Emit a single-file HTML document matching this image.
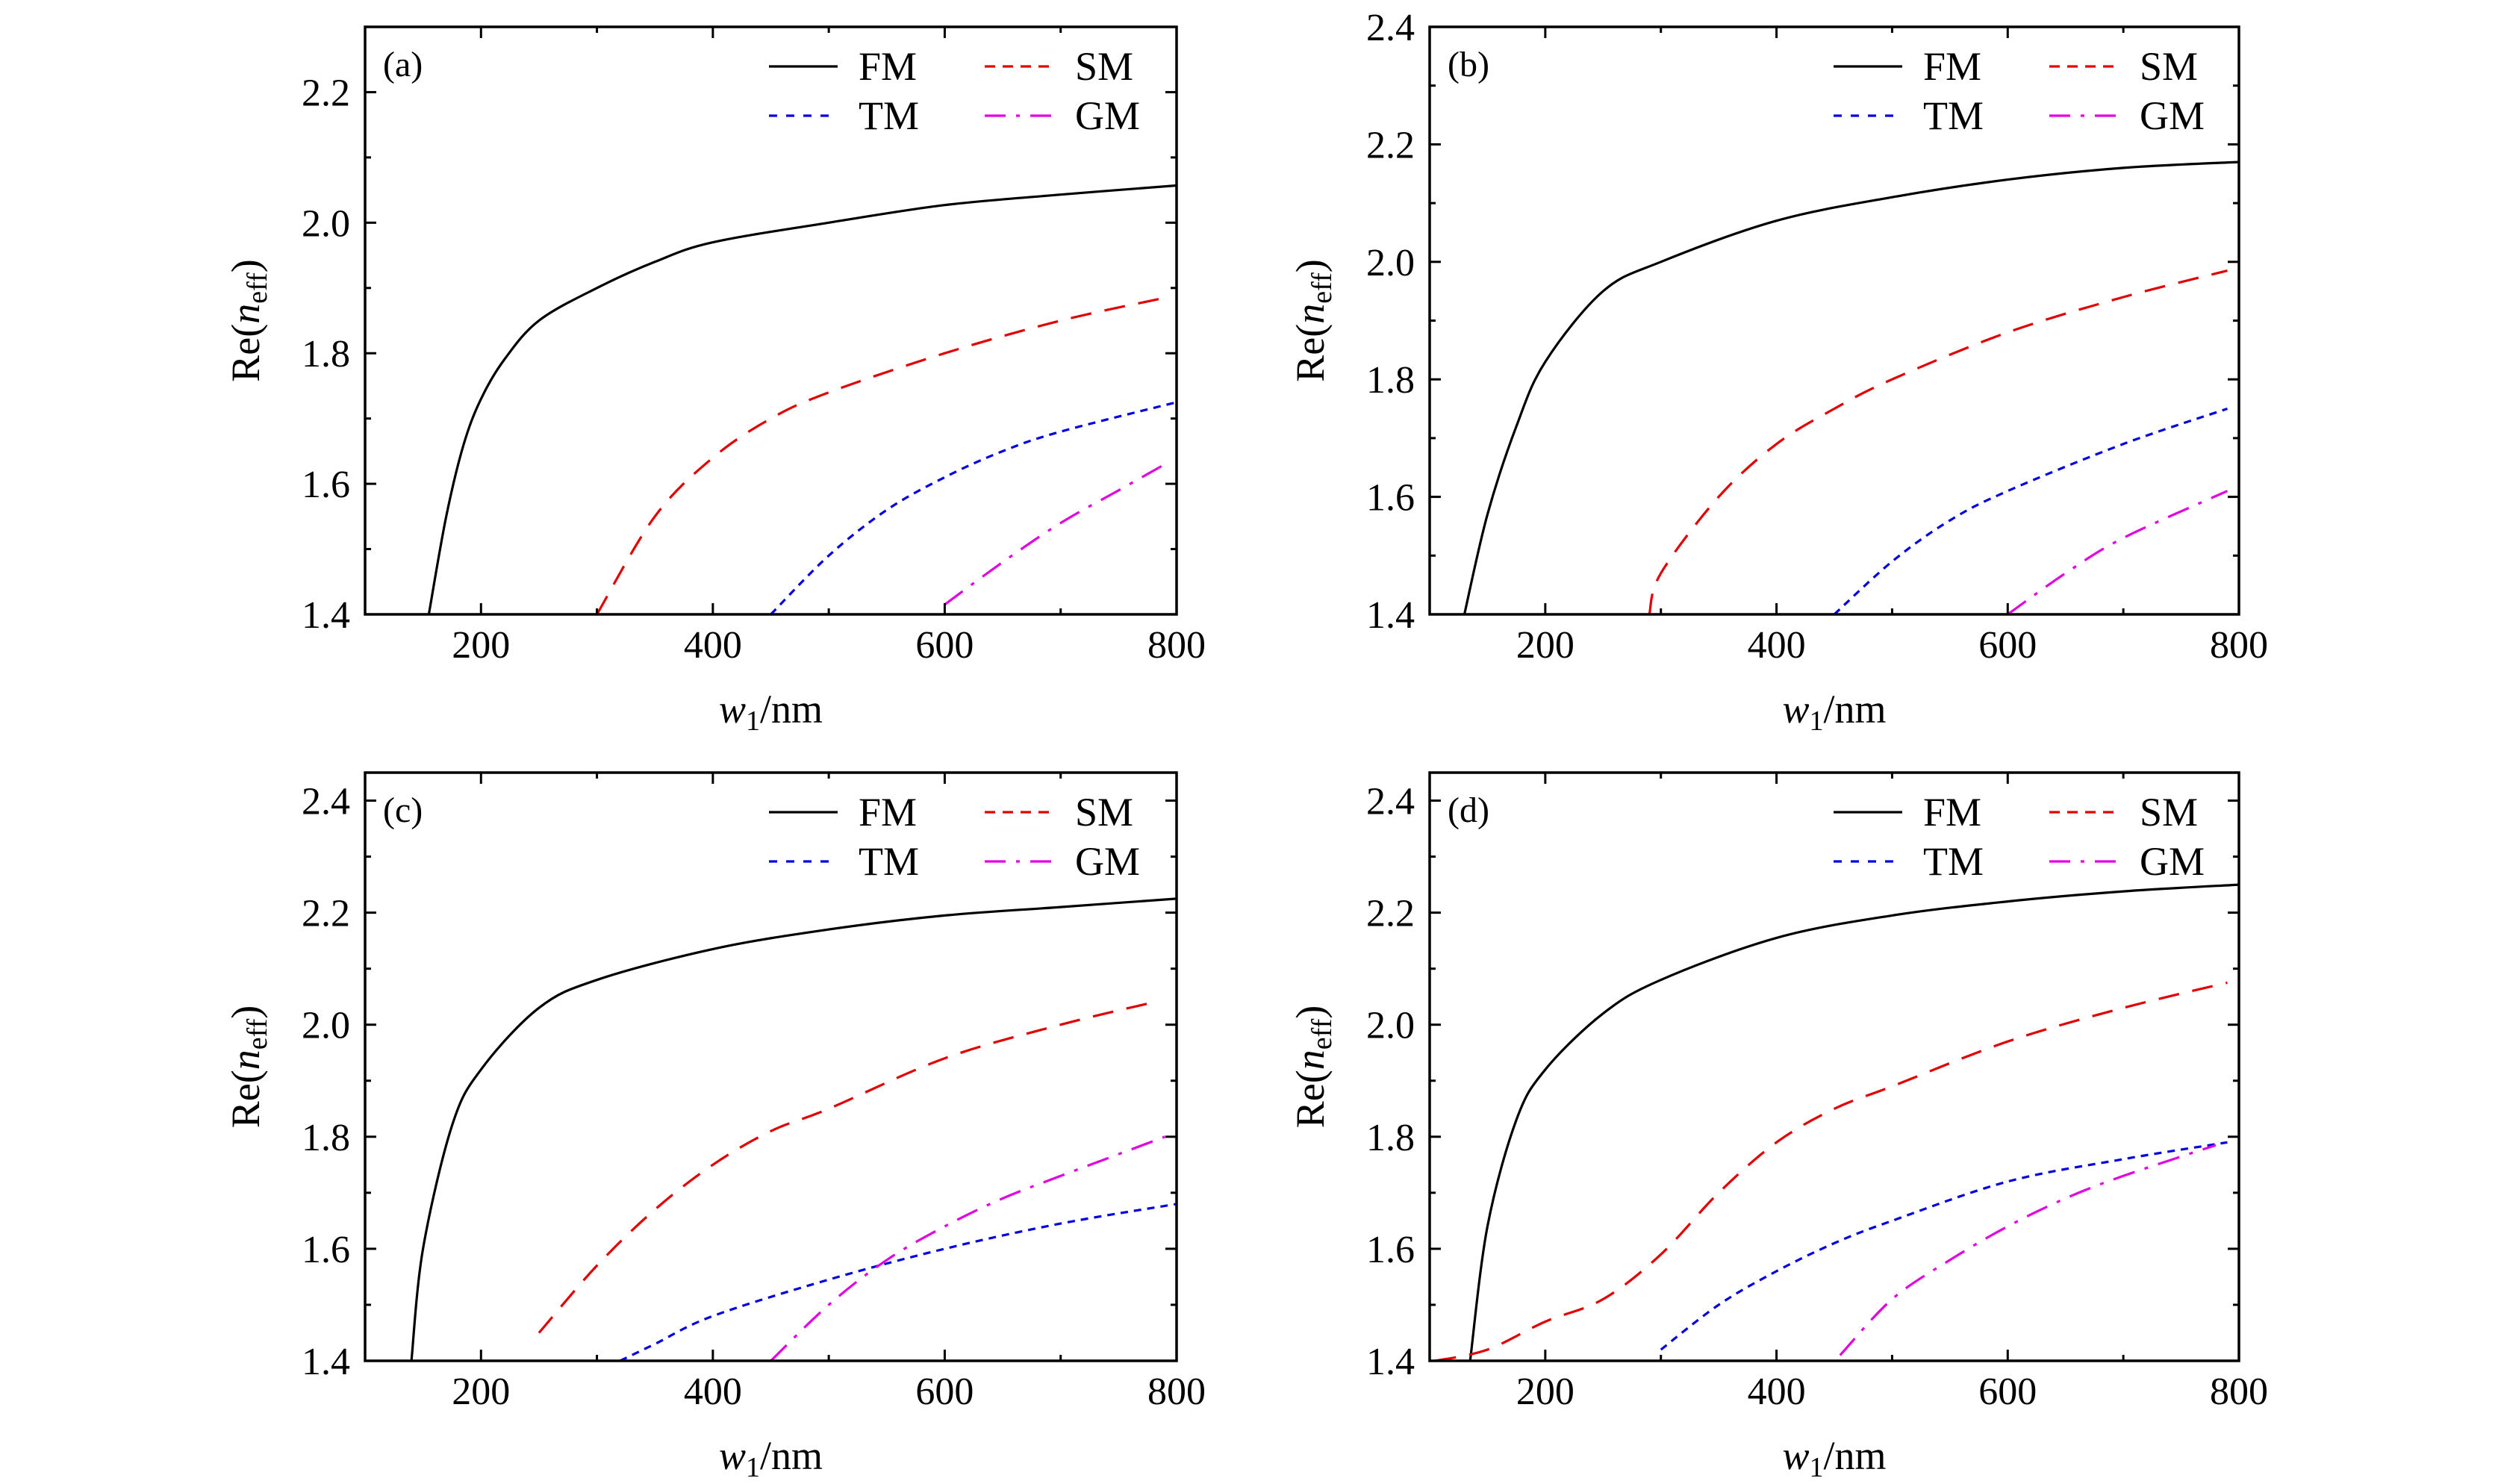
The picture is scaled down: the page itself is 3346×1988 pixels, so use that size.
<!DOCTYPE html>
<html><head><meta charset="utf-8"><style>
html,body{margin:0;padding:0;background:#fff;}
svg{display:block;font-family:"Liberation Serif","DejaVu Serif",serif;}
</style></head><body>
<svg id="fig" width="3346" height="1988" viewBox="0 0 3346 1988" xmlns="http://www.w3.org/2000/svg"></svg>
<script>
// ---- data ----
const panelLabels = ["(a)","(b)","(c)","(d)"];
const yMaxes = [2.3, 2.4, 2.45, 2.45];
const yTickLabels = [["1.4","1.6","1.8","2.0","2.2"],["1.4","1.6","1.8","2.0","2.2","2.4"],["1.4","1.6","1.8","2.0","2.2","2.4"],["1.4","1.6","1.8","2.0","2.2","2.4"]];
const xTickLabels = ["200","400","600","800"];
const seriesNames = ["FM","SM","TM","GM"];
// panel a
const aFMx=[155,170,185,200,220,250,300,350,400,500,600,700,800];
const aFMy=[1.40,1.55,1.66,1.73,1.79,1.85,1.90,1.94,1.97,2.00,2.027,2.043,2.057];
const aSMx=[300,350,400,450,500,600,700,790];
const aSMy=[1.40,1.55,1.64,1.70,1.74,1.80,1.85,1.885];
const aTMx=[450,500,550,600,650,700,800];
const aTMy=[1.40,1.49,1.56,1.61,1.65,1.68,1.725];
const aGMx=[600,650,700,750,790];
const aGMy=[1.415,1.48,1.54,1.59,1.63];
// panel b
const bFMx=[130,150,175,200,250,300,400,500,600,700,800];
const bFMy=[1.40,1.57,1.72,1.83,1.95,2.00,2.07,2.11,2.14,2.16,2.17];
const bSMx=[290,300,350,400,450,500,600,700,790];
const bSMy=[1.40,1.47,1.60,1.69,1.75,1.80,1.88,1.94,1.985];
const bTMx=[450,500,550,600,700,790];
const bTMy=[1.40,1.49,1.56,1.61,1.69,1.75];
const bGMx=[600,650,700,790];
const bGMy=[1.40,1.47,1.53,1.61];
// panel c
const cFMx=[140,150,175,200,250,300,400,500,600,700,800];
const cFMy=[1.40,1.60,1.82,1.92,2.03,2.08,2.135,2.17,2.195,2.21,2.225];
const cSMx=[250,300,350,400,450,500,600,700,780];
const cSMy=[1.45,1.57,1.67,1.75,1.81,1.85,1.94,2.00,2.04];
const cTMx=[320,350,400,500,600,700,800];
const cTMy=[1.40,1.43,1.48,1.545,1.60,1.645,1.68];
const cGMx=[450,500,550,600,650,700,790];
const cGMy=[1.40,1.50,1.58,1.64,1.69,1.73,1.80];
// panel d
const dFMx=[135,150,175,200,250,300,400,500,600,700,800];
const dFMy=[1.40,1.64,1.83,1.92,2.02,2.08,2.155,2.195,2.22,2.238,2.25];
const dSMx=[105,150,200,250,300,350,400,450,500,600,700,790];
const dSMy=[1.40,1.42,1.47,1.51,1.59,1.70,1.79,1.85,1.89,1.97,2.03,2.075];
const dTMx=[300,350,400,450,500,600,700,790];
const dTMy=[1.42,1.50,1.56,1.61,1.65,1.72,1.76,1.79];
const dGMx=[455,500,550,600,650,700,780];
const dGMy=[1.41,1.51,1.58,1.64,1.69,1.73,1.785];

const panelSeries=[
 [[aFMx,aFMy],[aSMx,aSMy],[aTMx,aTMy],[aGMx,aGMy]],
 [[bFMx,bFMy],[bSMx,bSMy],[bTMx,bTMy],[bGMx,bGMy]],
 [[cFMx,cFMy],[cSMx,cSMy],[cTMx,cTMy],[cGMx,cGMy]],
 [[dFMx,dFMy],[dSMx,dSMy],[dTMx,dTMy],[dGMx,dGMy]]
];
// ---- layout ----
const boxes=[[489,36,1576,823],[1915,36,2999,823],[489,1035,1576,1823],[1915,1035,2999,1823]];
const styles=[{c:"#000",d:"",ld:""},{c:"#e00000",d:"28 18",ld:"14 10"},{c:"#0000e0",d:"10 8",ld:"11 12"},{c:"#e000e0",d:"30 14 5 14",ld:"28 14 5 14"}];
const NS="http://www.w3.org/2000/svg";
const svg=document.getElementById('fig');
function mk(tag,attrs,parent){const e=document.createElementNS(NS,tag);for(const k in attrs)e.setAttribute(k,attrs[k]);(parent||svg).appendChild(e);return e;}
function smoothPath(P){
  if(P.length<3)return 'M'+P.map(p=>p.join(',')).join(' L');
  let d='M'+P[0][0].toFixed(1)+','+P[0][1].toFixed(1);
  for(let i=0;i<P.length-1;i++){
    const p0=P[i-1]||P[i],p1=P[i],p2=P[i+1],p3=P[i+2]||P[i+1];
    const c1=[p1[0]+(p2[0]-p0[0])/6,p1[1]+(p2[1]-p0[1])/6];
    const c2=[p2[0]-(p3[0]-p1[0])/6,p2[1]-(p3[1]-p1[1])/6];
    d+=' C'+c1.map(v=>v.toFixed(1)).join(',')+' '+c2.map(v=>v.toFixed(1)).join(',')+' '+p2[0].toFixed(1)+','+p2[1].toFixed(1);
  }
  return d;
}

boxes.forEach((b,p)=>{
  const [L,T,R,B]=b;
  const ymin=1.4,ymax=yMaxes[p];
  const sx=v=>L+(v-100)/700*(R-L);
  const sy=v=>B-(v-ymin)/(ymax-ymin)*(B-T);
  const g=mk('g',{});
  
  
  const clipId='clip'+p;
  const cp=mk('clipPath',{id:clipId},g);mk('rect',{x:L,y:T,width:R-L,height:B-T},cp);
  panelSeries[p].forEach((s,i)=>{
    const P=s[0].map((x,k)=>[sx(x),sy(s[1][k])]);
    const pl=mk('path',{d:smoothPath(P),fill:'none',stroke:styles[i].c,'stroke-width':3.2,'stroke-dasharray':styles[i].d,'clip-path':'url(#'+clipId+')','stroke-linejoin':'round'},g);
    
    
  });
  const fr=mk('rect',{x:L,y:T,width:R-L,height:B-T,fill:'none',stroke:'#000','stroke-width':3.5},g);
  
  
  for(let v=200;v<=800;v+=100){
    const X=sx(v),maj=v%200===0,len=maj?15:8;
    mk('line',{x1:X,y1:B,x2:X,y2:B-len,stroke:'#000','stroke-width':3},g);
    mk('line',{x1:X,y1:T,x2:X,y2:T+len,stroke:'#000','stroke-width':3},g);
  }
  xTickLabels.forEach(t=>{
    const tx=mk('text',{x:sx(+t),y:B+58,'font-size':52,'text-anchor':'middle'},g);
    tx.textContent=t;
    
    
  });
  for(let v=1.5;v<ymax-0.001;v+=0.1){
    const Y=sy(v),maj=Math.round(v*10)%2===0,len=maj?15:8;
    mk('line',{x1:L,y1:Y,x2:L+len,y2:Y,stroke:'#000','stroke-width':3},g);
    mk('line',{x1:R,y1:Y,x2:R-len,y2:Y,stroke:'#000','stroke-width':3},g);
  }
  yTickLabels[p].forEach(t=>{
    const ty=mk('text',{x:L-20,y:sy(+t)+18,'font-size':52,'text-anchor':'end'},g);
    ty.textContent=t;
    
    
  });
  const pl=mk('text',{x:L+24,y:T+66,'font-size':48},g);
  pl.textContent=panelLabels[p];
  
  
  const lx=[L+541,L+830],tx=[L+661,L+951],ly=[T+53,T+119];
  seriesNames.forEach((n,i)=>{
    const col=i%2,row=Math.floor(i/2);
    const Y=ly[row];
    mk('line',{x1:lx[col],y1:Y,x2:lx[col]+92,y2:Y,stroke:styles[i].c,'stroke-width':3.2,'stroke-dasharray':styles[i].ld},g);
    const t=mk('text',{x:tx[col],y:Y+18,'font-size':54},g);
    t.textContent=n;
    
    
  });
  const xt=mk('text',{x:(L+R)/2,y:B+145,'font-size':54,'text-anchor':'middle'},g);
  xt.innerHTML='<tspan font-style="italic">w</tspan><tspan font-size="38" dy="10">1</tspan><tspan dy="-10">/nm</tspan>';
  
  
  const cy=(T+B)/2,cx=L-142;
  const yt=mk('text',{x:cx,y:cy,'font-size':54,'text-anchor':'middle',transform:'rotate(-90 '+cx+' '+cy+')'},g);
  yt.innerHTML='Re(<tspan font-style="italic">n</tspan><tspan font-size="38" dy="10">eff</tspan><tspan dy="-10">)</tspan>';
  
  
});
</script>
</body></html>
